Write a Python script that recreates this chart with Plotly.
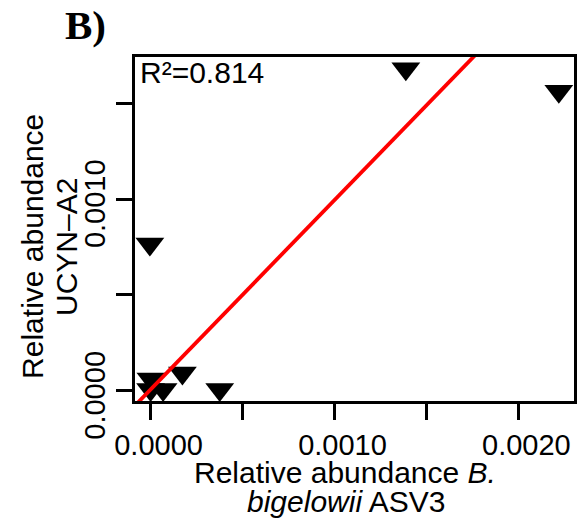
import plotly.graph_objects as go

# ---- data ----
bigelowii_asv3 = [0.001388, 0.002220, -0.000004, 0.0000016, 0.0, 0.000068, 0.000173, 0.000376]
ucyn_a2 = [0.001680, 0.001563, 0.000765, 0.0000616, 0.0000063, 0.0000063, 0.0000929, 0.0000063]

fit_slope = 0.9886
fit_intercept = 0.0000063
fit_x = [-0.000094, 0.001775]
fit_y = [fit_intercept + fit_slope * v for v in fit_x]

r2_label = "R²=0.814"
x_tickvals = [0.0, 0.0005, 0.0010, 0.0015, 0.0020]
x_ticktext = ["0.0000", "", "0.0010", "", "0.0020"]
y_tickvals = [0.0, 0.0005, 0.0010, 0.0015]
y_ticktext = ["0.0000", "", "0.0010", ""]

W, H = 579, 524
L, R, T, B = 135, 2, 57, 123
PW, PH = W - L - R, H - T - B


def px(x):
    return (x - L) / PW


def py(y):
    return (H - B - y) / PH


FONT = "Liberation Sans, Arial, Helvetica, sans-serif"

fig = go.Figure()
fig.add_trace(go.Scatter(
    x=bigelowii_asv3, y=ucyn_a2, mode="markers",
    marker=dict(symbol="triangle-down", size=25, color="black", line=dict(width=0)),
    cliponaxis=False, showlegend=False, hoverinfo="skip",
))
fig.add_trace(go.Scatter(
    x=fit_x, y=fit_y, mode="lines",
    line=dict(color="#ff0000", width=3.8),
    showlegend=False, hoverinfo="skip",
))

axis_common = dict(
    showgrid=False, zeroline=False, showline=True, mirror=True,
    linecolor="black", linewidth=2.5,
    ticks="outside", ticklen=16, tickwidth=2.5, tickcolor="black",
    tickfont=dict(family=FONT, size=29, color="black"),
)

fig.update_layout(
    width=W, height=H,
    margin=dict(l=L, r=R, t=T, b=B, pad=0),
    paper_bgcolor="white", plot_bgcolor="white",
    xaxis=dict(range=[-0.0000848, 0.0023025], tickvals=x_tickvals, ticktext=x_ticktext,
               ticklabelshift=8, **axis_common),
    yaxis=dict(range=[-0.0000538, 0.0017416], tickvals=y_tickvals, ticktext=y_ticktext,
               tickangle=-90, ticklabelshift=9, **axis_common),
    annotations=[
        dict(text="<b>B)</b>", x=px(84.7), y=py(25.5), xref="paper", yref="paper",
             xanchor="center", yanchor="middle", showarrow=False,
             font=dict(family="Liberation Serif, Times New Roman, serif", size=41, color="black")),
        dict(text=r2_label, x=px(138), y=py(72.3), xref="paper", yref="paper",
             xanchor="left", yanchor="middle", showarrow=False,
             font=dict(family=FONT, size=30, color="black")),
        dict(text="Relative abundance <i>B.</i>", x=px(346), y=py(472.5), xref="paper", yref="paper",
             xanchor="center", yanchor="middle", showarrow=False,
             font=dict(family=FONT, size=30, color="black")),
        dict(text="<i>bigelowii</i> ASV3", x=px(347.5), y=py(501), xref="paper", yref="paper",
             xanchor="center", yanchor="middle", showarrow=False,
             font=dict(family=FONT, size=30, color="black")),
        dict(text="Relative abundance", x=px(32.5), y=py(246.7), xref="paper", yref="paper",
             xanchor="center", yanchor="middle", showarrow=False, textangle=-90,
             font=dict(family=FONT, size=30, color="black")),
        dict(text="UCYN\u2013A2", x=px(65.8), y=py(246.7), xref="paper", yref="paper",
             xanchor="center", yanchor="middle", showarrow=False, textangle=-90,
             font=dict(family=FONT, size=30, color="black")),
    ],
)

fig.write_html("out.html")
